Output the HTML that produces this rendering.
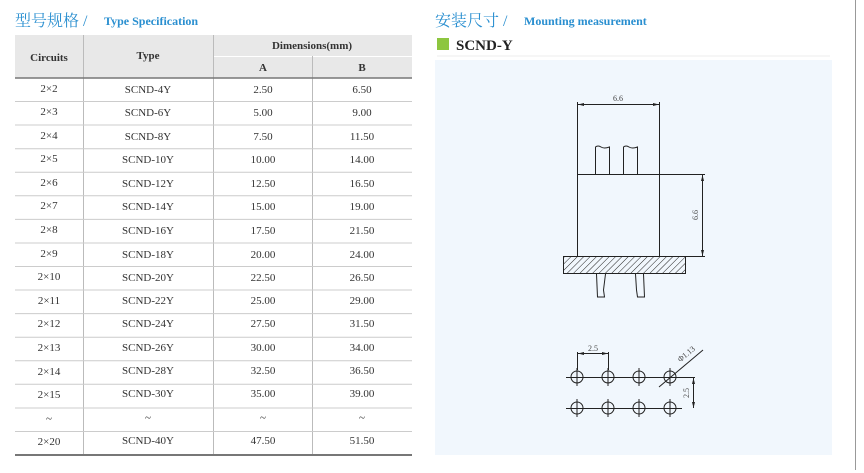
<!DOCTYPE html>
<html><head><meta charset="utf-8"><style>
html,body{margin:0;padding:0;background:#fff;width:864px;height:473px;overflow:hidden}
svg{display:block}
.t{font-family:"Liberation Serif",serif;font-size:11px;fill:#333;text-anchor:middle}
.h{font-family:"Liberation Serif",serif;font-size:11px;font-weight:bold;fill:#333;text-anchor:middle}
.d{font-family:"Liberation Serif",serif;font-size:8px;fill:#444;text-anchor:middle}
</style></head><body>
<svg width="864" height="473" viewBox="0 0 864 473" xmlns="http://www.w3.org/2000/svg">
<defs>
<pattern id="hat" width="4.5" height="4.5" patternUnits="userSpaceOnUse" patternTransform="rotate(45)">
<line x1="0" y1="0" x2="0" y2="4.5" stroke="#222" stroke-width="1"/>
</pattern>
<marker id="ar" markerWidth="6" markerHeight="6" refX="6" refY="3" orient="auto"><path d="M0,1.5 L6,3 L0,4.5z" fill="#222"/></marker>
<marker id="al" markerWidth="6" markerHeight="6" refX="0" refY="3" orient="auto"><path d="M6,1.5 L0,3 L6,4.5z" fill="#222"/></marker>
</defs>
<text x="15" y="26" font-family="'Liberation Serif','Noto Serif CJK SC',serif" font-size="16" fill="#2a8fd0">型号规格 /</text>
<text x="104" y="25" font-family="'Liberation Serif',serif" font-size="12" font-weight="bold" fill="#2a8fd0">Type Specification</text>
<text x="435" y="26" font-family="'Liberation Serif','Noto Serif CJK SC',serif" font-size="16" fill="#2a8fd0">安装尺寸 /</text>
<text x="524" y="25" font-family="'Liberation Serif',serif" font-size="12" font-weight="bold" fill="#2a8fd0">Mounting measurement</text>
<rect x="437" y="38" width="12" height="12" fill="#8dc63f"/>
<text x="456" y="50" font-family="'Liberation Serif',serif" font-size="15" font-weight="bold" fill="#222">SCND-Y</text>
<line x1="437" y1="56" x2="830" y2="56" stroke="#eee" stroke-width="1"/>
<rect x="435" y="60" width="397" height="395" fill="#f1f7fd"/>
<line x1="855.5" y1="0" x2="855.5" y2="470" stroke="#999" stroke-width="1"/>
<rect x="15" y="35" width="397" height="43" fill="#e8e8e8"/>
<line x1="213" y1="56.5" x2="412" y2="56.5" stroke="#fff" stroke-width="1"/>
<line x1="83.5" y1="35" x2="83.5" y2="455" stroke="#bbb"/>
<line x1="213.5" y1="35" x2="213.5" y2="455" stroke="#bbb"/>
<line x1="312.5" y1="56" x2="312.5" y2="455" stroke="#bbb"/>
<line x1="15" y1="78" x2="412" y2="78" stroke="#777" stroke-width="1.5"/>
<text class="h" x="49" y="61">Circuits</text>
<text class="h" x="148" y="59">Type</text>
<text class="h" x="312" y="49">Dimensions(mm)</text>
<text class="h" x="263" y="71">A</text>
<text class="h" x="362" y="71">B</text>
<g stroke="#ccc" stroke-width="1">
<line x1="15" y1="101.5" x2="412" y2="101.5"/><line x1="15" y1="125" x2="412" y2="125"/>
<line x1="15" y1="148.7" x2="412" y2="148.7"/><line x1="15" y1="172.2" x2="412" y2="172.2"/>
<line x1="15" y1="195.8" x2="412" y2="195.8"/><line x1="15" y1="219.4" x2="412" y2="219.4"/>
<line x1="15" y1="243" x2="412" y2="243"/><line x1="15" y1="266.5" x2="412" y2="266.5"/>
<line x1="15" y1="290" x2="412" y2="290"/><line x1="15" y1="313.6" x2="412" y2="313.6"/>
<line x1="15" y1="337.2" x2="412" y2="337.2"/><line x1="15" y1="360.8" x2="412" y2="360.8"/>
<line x1="15" y1="384.3" x2="412" y2="384.3"/><line x1="15" y1="408" x2="412" y2="408"/>
<line x1="15" y1="431.5" x2="412" y2="431.5"/>
</g>
<line x1="15" y1="455" x2="412" y2="455" stroke="#777" stroke-width="2"/>
<g class="t">
<text x="49" y="92">2×2</text><text x="148" y="93">SCND-4Y</text><text x="263" y="93">2.50</text><text x="362" y="93">6.50</text>
<text x="49" y="115">2×3</text><text x="148" y="116">SCND-6Y</text><text x="263" y="116">5.00</text><text x="362" y="116">9.00</text>
<text x="49" y="139">2×4</text><text x="148" y="140">SCND-8Y</text><text x="263" y="140">7.50</text><text x="362" y="140">11.50</text>
<text x="49" y="162">2×5</text><text x="148" y="163">SCND-10Y</text><text x="263" y="163">10.00</text><text x="362" y="163">14.00</text>
<text x="49" y="186">2×6</text><text x="148" y="187">SCND-12Y</text><text x="263" y="187">12.50</text><text x="362" y="187">16.50</text>
<text x="49" y="209">2×7</text><text x="148" y="210">SCND-14Y</text><text x="263" y="210">15.00</text><text x="362" y="210">19.00</text>
<text x="49" y="233">2×8</text><text x="148" y="234">SCND-16Y</text><text x="263" y="234">17.50</text><text x="362" y="234">21.50</text>
<text x="49" y="257">2×9</text><text x="148" y="258">SCND-18Y</text><text x="263" y="258">20.00</text><text x="362" y="258">24.00</text>
<text x="49" y="280">2×10</text><text x="148" y="281">SCND-20Y</text><text x="263" y="281">22.50</text><text x="362" y="281">26.50</text>
<text x="49" y="304">2×11</text><text x="148" y="304">SCND-22Y</text><text x="263" y="304">25.00</text><text x="362" y="304">29.00</text>
<text x="49" y="327">2×12</text><text x="148" y="327">SCND-24Y</text><text x="263" y="327">27.50</text><text x="362" y="327">31.50</text>
<text x="49" y="351">2×13</text><text x="148" y="351">SCND-26Y</text><text x="263" y="351">30.00</text><text x="362" y="351">34.00</text>
<text x="49" y="375">2×14</text><text x="148" y="374">SCND-28Y</text><text x="263" y="374">32.50</text><text x="362" y="374">36.50</text>
<text x="49" y="398">2×15</text><text x="148" y="397">SCND-30Y</text><text x="263" y="397">35.00</text><text x="362" y="397">39.00</text>
<text x="49" y="422">~</text><text x="148" y="421">~</text><text x="263" y="421">~</text><text x="362" y="421">~</text>
<text x="49" y="445">2×20</text><text x="148" y="444">SCND-40Y</text><text x="263" y="444">47.50</text><text x="362" y="444">51.50</text>
</g>
<g stroke="#222" stroke-width="1" fill="none">
<line x1="577.5" y1="102" x2="577.5" y2="256"/>
<line x1="659.5" y1="102" x2="659.5" y2="256"/>
<line x1="578" y1="104.5" x2="659" y2="104.5" marker-start="url(#al)" marker-end="url(#ar)"/>
<line x1="577" y1="174.5" x2="705" y2="174.5"/>
<line x1="659" y1="256.5" x2="705" y2="256.5"/>
<line x1="702.5" y1="175" x2="702.5" y2="256" marker-start="url(#al)" marker-end="url(#ar)"/>
<path d="M595.5,174 V147 Q598,145 601,147 T609.5,147 V174"/>
<path d="M623.5,174 V147 Q626,145 629,147 T637.5,147 V174"/>
<rect x="563.5" y="256.5" width="122" height="17" fill="url(#hat)"/>
<path d="M596.5,274 L597.5,297 H604.5 L603.5,290 L605.5,274"/>
<path d="M635.5,274 L636.5,290 L637.5,297 H644.5 L643.5,274"/>
</g>
<text class="d" x="618" y="101">6.6</text>
<text class="d" transform="translate(698,215) rotate(-90)">6.6</text>
<g stroke="#222" stroke-width="1" fill="none">
<line x1="566" y1="377.5" x2="695" y2="377.5"/>
<line x1="566" y1="408.5" x2="682" y2="408.5"/>
<circle cx="577" cy="377" r="6"/><circle cx="608" cy="377" r="6"/><circle cx="639" cy="377" r="6"/><circle cx="670" cy="377" r="6"/>
<circle cx="577" cy="408" r="6"/><circle cx="608" cy="408" r="6"/><circle cx="639" cy="408" r="6"/><circle cx="670" cy="408" r="6"/>
<line x1="577" y1="368" x2="577" y2="386"/><line x1="608" y1="368" x2="608" y2="386"/><line x1="639" y1="368" x2="639" y2="386"/><line x1="670" y1="368" x2="670" y2="386"/>
<line x1="577" y1="399" x2="577" y2="417"/><line x1="608" y1="399" x2="608" y2="417"/><line x1="639" y1="399" x2="639" y2="417"/><line x1="670" y1="399" x2="670" y2="417"/>
<line x1="577.5" y1="352" x2="577.5" y2="370"/><line x1="608.5" y1="352" x2="608.5" y2="370"/>
<line x1="578" y1="353.5" x2="608" y2="353.5" marker-start="url(#al)" marker-end="url(#ar)"/>
<line x1="693.5" y1="378" x2="693.5" y2="408" marker-start="url(#al)" marker-end="url(#ar)"/>
<line x1="659" y1="387" x2="703" y2="350"/>
</g>
<text class="d" x="593" y="351">2.5</text>
<text class="d" transform="translate(689,393) rotate(-90)">2.5</text>
<text class="d" transform="translate(688,356) rotate(-40)">Φ1.13</text>
</svg>
</body></html>
